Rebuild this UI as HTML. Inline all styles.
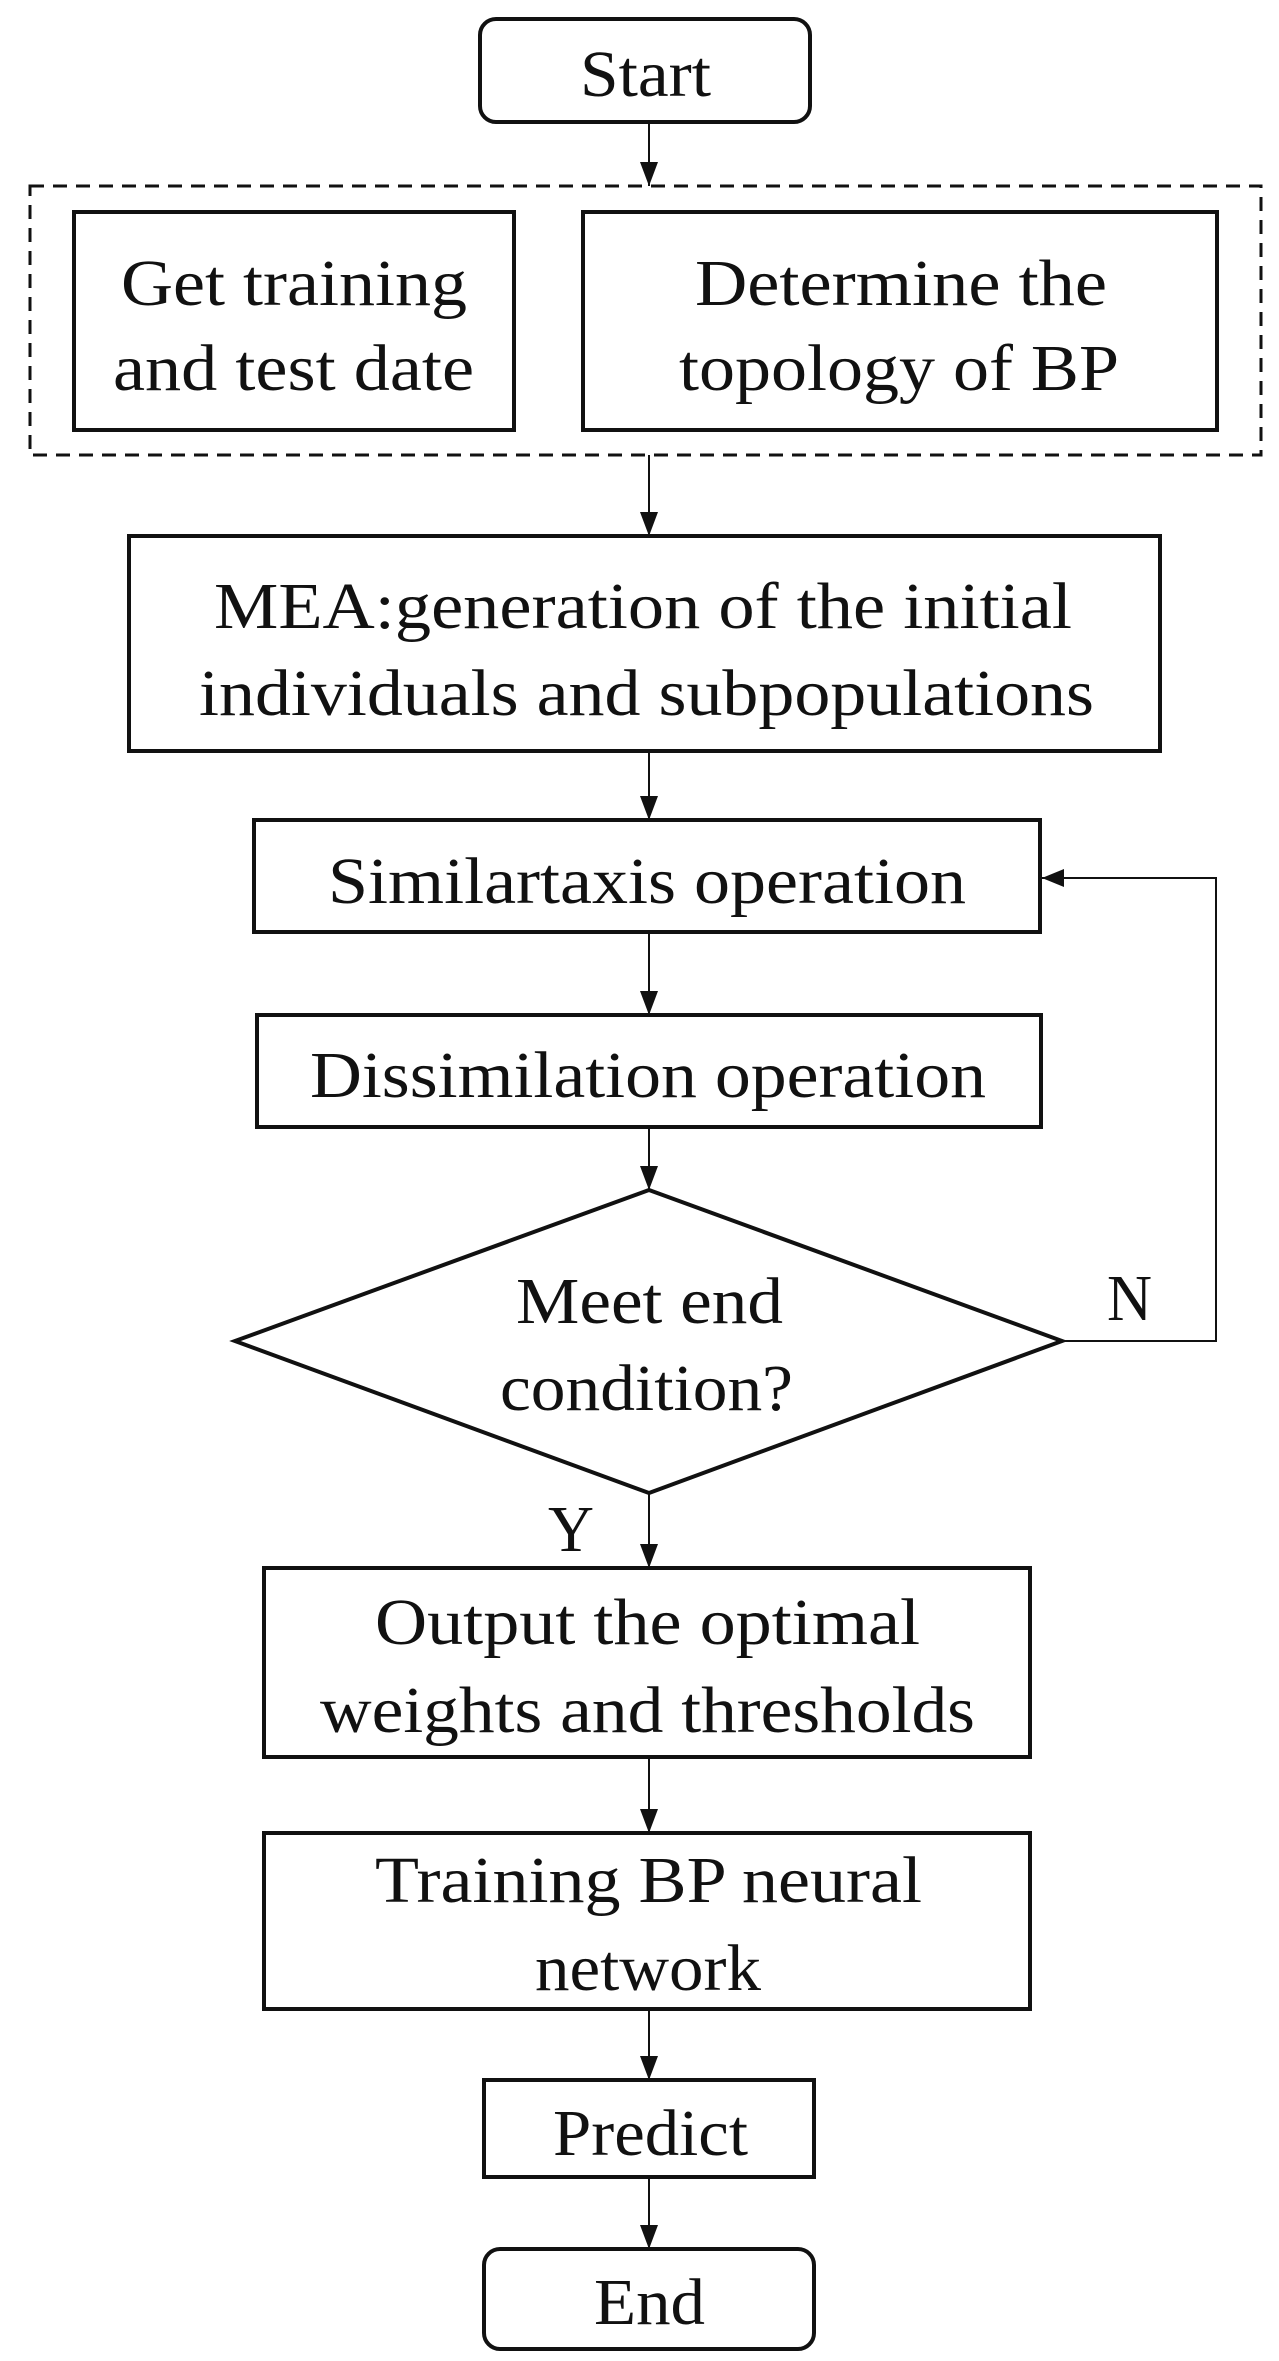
<!DOCTYPE html>
<html><head><meta charset="utf-8"><style>
html,body{margin:0;padding:0;background:#fff;}
svg{display:block;}
text{font-family:"Liberation Serif",serif;font-size:66px;fill:#111;}
</style></head><body>
<svg width="1279" height="2361" viewBox="0 0 1279 2361" xmlns="http://www.w3.org/2000/svg">
<defs><marker id="a" markerWidth="10" markerHeight="10" refX="5" refY="10" orient="auto" markerUnits="userSpaceOnUse" viewBox="0 0 10 10"><path d="M0,0 L10,0 L5,10 z" fill="#111"/></marker></defs>
<g fill="none" stroke="#111" stroke-width="4">
<rect x="480" y="19" width="330" height="103" rx="16"/>
<rect x="30" y="186" width="1231" height="269" stroke-dasharray="14,9" stroke-width="3"/>
<rect x="74" y="212" width="440" height="218"/>
<rect x="583" y="212" width="634" height="218"/>
<rect x="129" y="536" width="1031" height="215"/>
<rect x="254" y="820" width="786" height="112"/>
<rect x="257" y="1015" width="784" height="112"/>
<polygon points="649,1190 1062,1341 649,1493 235,1341"/>
<rect x="264" y="1568" width="766" height="189"/>
<rect x="264" y="1833" width="766" height="176"/>
<rect x="484" y="2080" width="330" height="97"/>
<rect x="484" y="2249" width="330" height="100" rx="16"/>
</g>
<g stroke="#111" stroke-width="2" fill="none">
<path d="M649 122 V186"/>
<path d="M649 455 V536"/>
<path d="M649 751 V820"/>
<path d="M649 932 V1015"/>
<path d="M649 1127 V1190"/>
<path d="M649 1493 V1568"/>
<path d="M649 1757 V1833"/>
<path d="M649 2009 V2080"/>
<path d="M649 2177 V2249"/>
<path d="M1062 1341 H1216 V878 H1042"/>
</g>
<g fill="#111">
<path d="M640 162 L658 162 L649 186 z"/>
<path d="M640 512 L658 512 L649 536 z"/>
<path d="M640 796 L658 796 L649 820 z"/>
<path d="M640 991 L658 991 L649 1015 z"/>
<path d="M640 1166 L658 1166 L649 1190 z"/>
<path d="M640 1544 L658 1544 L649 1568 z"/>
<path d="M640 1809 L658 1809 L649 1833 z"/>
<path d="M640 2056 L658 2056 L649 2080 z"/>
<path d="M640 2225 L658 2225 L649 2249 z"/>
<path d="M1042 878 L1064 869 L1064 887 z"/>
</g>
<text x="580" y="96" textLength="131" lengthAdjust="spacingAndGlyphs">Start</text>
<text x="121" y="305" textLength="346" lengthAdjust="spacingAndGlyphs">Get training</text>
<text x="113" y="390" textLength="361" lengthAdjust="spacingAndGlyphs">and test date</text>
<text x="695" y="305" textLength="412" lengthAdjust="spacingAndGlyphs">Determine the</text>
<text x="679" y="390" textLength="440" lengthAdjust="spacingAndGlyphs">topology of BP</text>
<text x="214" y="628" textLength="858" lengthAdjust="spacingAndGlyphs">MEA:generation of the initial</text>
<text x="199" y="715" textLength="895" lengthAdjust="spacingAndGlyphs">individuals and subpopulations</text>
<text x="328" y="903" textLength="638" lengthAdjust="spacingAndGlyphs">Similartaxis operation</text>
<text x="310" y="1097" textLength="676" lengthAdjust="spacingAndGlyphs">Dissimilation operation</text>
<text x="516" y="1323" textLength="267" lengthAdjust="spacingAndGlyphs">Meet end</text>
<text x="500" y="1410" textLength="293" lengthAdjust="spacingAndGlyphs">condition?</text>
<text x="1107" y="1320" textLength="45" lengthAdjust="spacingAndGlyphs">N</text>
<text x="548" y="1551" textLength="46" lengthAdjust="spacingAndGlyphs">Y</text>
<text x="375" y="1644" textLength="545" lengthAdjust="spacingAndGlyphs">Output the optimal</text>
<text x="320" y="1732" textLength="655" lengthAdjust="spacingAndGlyphs">weights and thresholds</text>
<text x="375" y="1902" textLength="547" lengthAdjust="spacingAndGlyphs">Training BP neural</text>
<text x="535" y="1990" textLength="226" lengthAdjust="spacingAndGlyphs">network</text>
<text x="553" y="2155" textLength="195" lengthAdjust="spacingAndGlyphs">Predict</text>
<text x="594" y="2324" textLength="111" lengthAdjust="spacingAndGlyphs">End</text>
</svg>
</body></html>
